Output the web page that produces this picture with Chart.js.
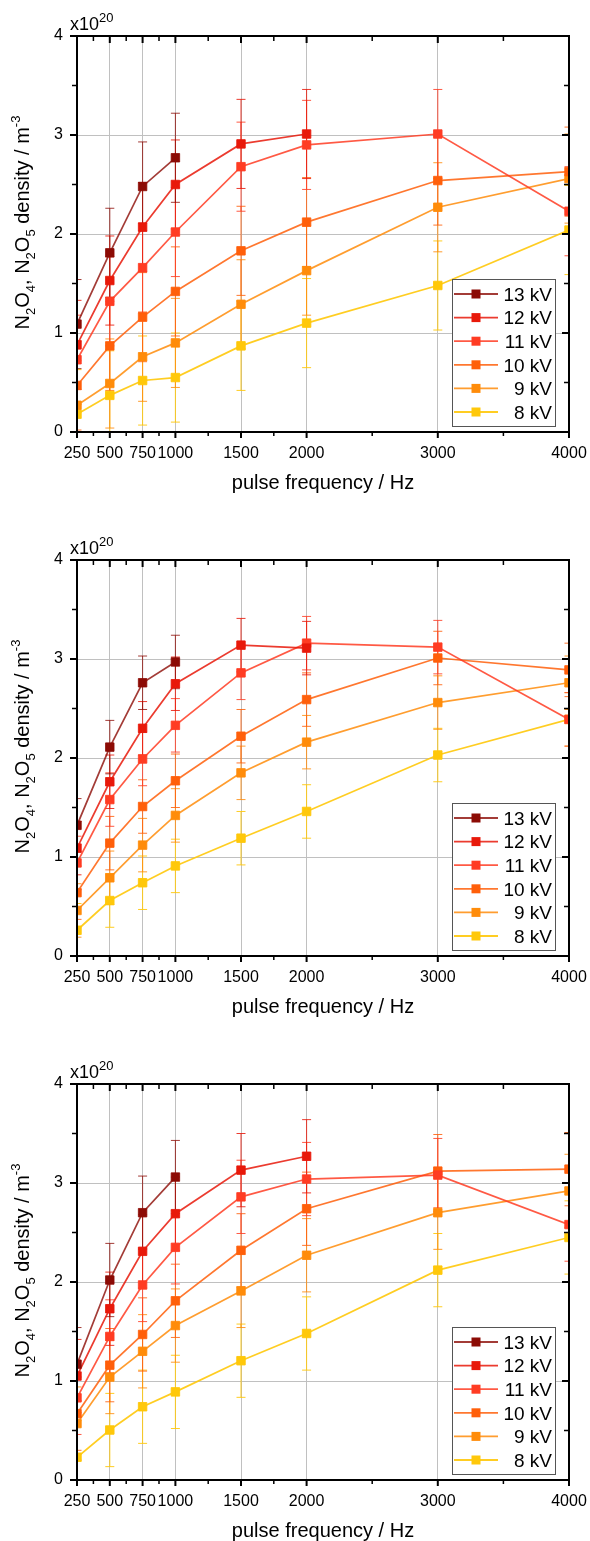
<!DOCTYPE html>
<html lang="en">
<head>
<meta charset="UTF-8">
<title>N2O4, N2O5 density vs pulse frequency</title>
<script src="https://cdn.jsdelivr.net/npm/chart.js"></script>
<style>
  body { margin: 0; background: #fff; }
  canvas { display: block; }
</style>
</head>
<body>
<canvas id="chartTop" width="590" height="524"></canvas>
<canvas id="chartMid" width="590" height="524"></canvas>
<canvas id="chartBot" width="590" height="493"></canvas>

<script>
const frequencies = [250, 500, 750, 1000, 1500, 2000, 3000, 4000];
const seriesLabels = ['13 kV', '12 kV', '11 kV', '10 kV', '9 kV', '8 kV'];
const markerColors = ['#8c0b05', '#e8190a', '#ff3c23', '#ff5f0a', '#ff8c0a', '#ffc80a'];
const lineColors = ['rgba(140,11,5,0.8)', 'rgba(232,25,10,0.85)', 'rgba(255,60,35,0.85)',
                    'rgba(255,95,10,0.85)', 'rgba(255,140,10,0.85)', 'rgba(255,200,10,0.9)'];

const xMajorTicks = [250, 500, 750, 1000, 1500, 2000, 3000, 4000];
const xMinorTicks = [375, 625, 875, 1250, 1750, 2500, 3500];
const yMajorTicks = [0, 1, 2, 3, 4];
const yMinorTicks = [0.5, 1.5, 2.5, 3.5];

// top panel
const top13kV = [1.09, 1.81, 2.48, 2.77];
const top12kV = [0.88, 1.53, 2.07, 2.50, 2.91, 3.01];
const top11kV = [0.73, 1.32, 1.66, 2.02, 2.68, 2.90, 3.01, 2.23];
const top10kV = [0.47, 0.87, 1.16, 1.42, 1.83, 2.12, 2.54, 2.63];
const top9kV  = [0.27, 0.49, 0.76, 0.90, 1.29, 1.63, 2.27, 2.56];
const top8kV  = [0.18, 0.37, 0.52, 0.55, 0.87, 1.10, 1.48, 2.04];
const topError = 0.45;

// middle panel
const mid13kV = [1.32, 2.11, 2.76, 2.97];
const mid12kV = [1.09, 1.76, 2.30, 2.75, 3.14, 3.11];
const mid11kV = [0.94, 1.58, 1.99, 2.33, 2.86, 3.16, 3.12, 2.39];
const mid10kV = [0.64, 1.14, 1.51, 1.77, 2.22, 2.59, 3.01, 2.89];
const mid9kV  = [0.46, 0.79, 1.12, 1.42, 1.85, 2.16, 2.56, 2.76];
const mid8kV  = [0.26, 0.56, 0.74, 0.91, 1.19, 1.46, 2.03, 2.39];
const midError = 0.27;

// bottom panel
const bot13kV = [1.17, 2.02, 2.70, 3.06];
const bot12kV = [1.05, 1.73, 2.31, 2.69, 3.13, 3.27];
const bot11kV = [0.83, 1.45, 1.97, 2.35, 2.86, 3.04, 3.08, 2.58];
const bot10kV = [0.67, 1.16, 1.47, 1.81, 2.32, 2.74, 3.12, 3.14];
const bot9kV  = [0.57, 1.04, 1.30, 1.56, 1.91, 2.27, 2.70, 2.92];
const bot8kV  = [0.23, 0.505, 0.74, 0.89, 1.205, 1.48, 2.12, 2.45];
const botError = 0.37;

const FONT = "'Liberation Sans', Arial, sans-serif";
Chart.defaults.font.family = FONT;
Chart.defaults.color = '#000';

// draws text pieces with sub/superscripts, baseline at y=0
function drawRich(ctx, parts, size, align) {
  let total = 0;
  parts.forEach(p => {
    ctx.font = (size * (p.s || 1)) + 'px ' + FONT;
    p.w = ctx.measureText(p.t).width;
    total += p.w;
  });
  let x = align === 'center' ? -total / 2 : 0;
  parts.forEach(p => {
    ctx.font = (size * (p.s || 1)) + 'px ' + FONT;
    ctx.fillText(p.t, x, p.dy || 0);
    x += p.w;
  });
}

const decorPlugin = {
  id: 'decor',
  beforeDatasetsDraw(chart) {
    const {ctx, chartArea: a, scales: {x, y}} = chart;
    const err = chart.options.plugins.decor.error;
    ctx.save();
    ctx.beginPath();
    ctx.rect(a.left, a.top, a.right - a.left, a.bottom - a.top);
    ctx.clip();
    for (let i = chart.data.datasets.length - 1; i >= 0; i--) {
      const ds = chart.data.datasets[i];
      ctx.strokeStyle = ds.borderColor;
      ctx.lineWidth = 1;
      ds.data.forEach(p => {
        const px = x.getPixelForValue(p.x);
        const y1 = y.getPixelForValue(p.y + err);
        const y2 = y.getPixelForValue(p.y - err);
        ctx.beginPath();
        ctx.moveTo(px, y1); ctx.lineTo(px, y2);
        ctx.moveTo(px - 4.5, y1); ctx.lineTo(px + 4.5, y1);
        ctx.moveTo(px - 4.5, y2); ctx.lineTo(px + 4.5, y2);
        ctx.stroke();
      });
    }
    ctx.restore();
  },
  afterDatasetsDraw(chart) {
    const {ctx, chartArea: a, scales: {x, y}} = chart;
    ctx.save();
    ctx.strokeStyle = '#000';
    const tick = (vals, len, lw, horiz) => {
      ctx.lineWidth = lw;
      ctx.beginPath();
      vals.forEach(v => {
        if (horiz) {
          const px = x.getPixelForValue(v);
          ctx.moveTo(px, a.bottom); ctx.lineTo(px, a.bottom + len);
          ctx.moveTo(px, a.top); ctx.lineTo(px, a.top + len + 1);
        } else {
          const py = y.getPixelForValue(v);
          ctx.moveTo(a.left, py); ctx.lineTo(a.left - len - 1, py);
          ctx.moveTo(a.right, py); ctx.lineTo(a.right - len - 1, py);
        }
      });
      ctx.stroke();
    };
    tick(xMajorTicks, 6, 2, true);
    tick(xMinorTicks, 4, 1.5, true);
    tick(yMajorTicks, 6, 2, false);
    tick(yMinorTicks, 4, 1.5, false);
    ctx.lineWidth = 2;
    ctx.strokeRect(a.left, a.top, a.right - a.left, a.bottom - a.top);
    ctx.restore();
  },
  afterDraw(chart) {
    const {ctx, chartArea: a} = chart;
    ctx.save();
    ctx.fillStyle = '#000';
    ctx.textBaseline = 'alphabetic';
    // x axis title
    ctx.font = '20px ' + FONT;
    ctx.textAlign = 'center';
    ctx.fillText('pulse frequency / Hz', (a.left + a.right) / 2, a.bottom + 56.5);
    ctx.textAlign = 'left';
    // exponent label
    ctx.save();
    ctx.translate(70, a.top - 6);
    drawRich(ctx, [{t: 'x10'}, {t: '20', s: 0.72, dy: -8}], 18, 'left');
    ctx.restore();
    // y axis title
    ctx.save();
    ctx.translate(28.5, a.top + 186.5);
    ctx.rotate(-Math.PI / 2);
    drawRich(ctx, [
      {t: 'N'}, {t: '2', s: 0.65, dy: 6}, {t: 'O'}, {t: '4', s: 0.65, dy: 6},
      {t: ', N'}, {t: '2', s: 0.65, dy: 6}, {t: 'O'}, {t: '5', s: 0.65, dy: 6},
      {t: ' density / m'}, {t: '-3', s: 0.65, dy: -9}
    ], 20, 'center');
    ctx.restore();
    // legend
    const lx = 452.5, ly = a.top + 243.5, lw = 103, lh = 147;
    ctx.fillStyle = '#fff';
    ctx.fillRect(lx, ly, lw, lh);
    ctx.strokeStyle = '#555';
    ctx.lineWidth = 1;
    ctx.strokeRect(lx, ly, lw, lh);
    ctx.font = '19px ' + FONT;
    ctx.textAlign = 'right';
    chart.data.datasets.forEach((ds, i) => {
      const cy = ly + 14.5 + i * 23.6;
      ctx.strokeStyle = ds.borderColor;
      ctx.lineWidth = 1.8;
      ctx.beginPath();
      ctx.moveTo(454, cy); ctx.lineTo(498, cy);
      ctx.stroke();
      ctx.fillStyle = ds.pointBackgroundColor;
      ctx.fillRect(471.5, cy - 4.5, 9, 9);
      ctx.fillStyle = '#000';
      ctx.fillText(ds.label, 552, cy + 6.8);
    });
    ctx.restore();
  }
};

function makeChart(id, values, error) {
  const canvas = document.getElementById(id);
  const datasets = values.map((vals, i) => ({
    label: seriesLabels[i],
    data: vals.map((v, j) => ({x: frequencies[j], y: v})),
    borderColor: lineColors[i],
    backgroundColor: markerColors[i],
    pointBackgroundColor: markerColors[i],
    pointBorderColor: lineColors[i],
    pointBorderWidth: 1,
    pointStyle: 'rect',
    pointRadius: 6,
    borderWidth: 1.7,
    tension: 0,
    clip: 0
  }));
  return new Chart(canvas.getContext('2d'), {
    type: 'line',
    data: {datasets},
    plugins: [decorPlugin],
    options: {
      responsive: false,
      animation: false,
      events: [],
      layout: {padding: {left: 0, right: 21, top: 36, bottom: canvas.height - 432 - 30}},
      plugins: {
        legend: {display: false},
        tooltip: {enabled: false},
        decor: {error}
      },
      scales: {
        x: {
          type: 'linear',
          min: 250, max: 4000,
          afterBuildTicks: s => { s.ticks = xMajorTicks.map(v => ({value: v})); },
          afterFit: s => { s.height = 30; s.paddingLeft = 0; s.paddingRight = 0; },
          ticks: {padding: 12, font: {size: 16}, maxRotation: 0, autoSkip: false,
                  callback: v => String(v)},
          grid: {color: '#c0c0c0', lineWidth: 1, drawTicks: false},
          border: {display: false}
        },
        y: {
          min: 0, max: 4,
          afterBuildTicks: s => { s.ticks = yMajorTicks.map(v => ({value: v})); },
          afterFit: s => { s.width = 77; s.paddingTop = 0; s.paddingBottom = 0; },
          ticks: {padding: 14, font: {size: 16}, callback: v => String(v)},
          grid: {color: '#c0c0c0', lineWidth: 1, drawTicks: false},
          border: {display: false}
        }
      }
    }
  });
}

makeChart('chartTop', [top13kV, top12kV, top11kV, top10kV, top9kV, top8kV], topError);
makeChart('chartMid', [mid13kV, mid12kV, mid11kV, mid10kV, mid9kV, mid8kV], midError);
makeChart('chartBot', [bot13kV, bot12kV, bot11kV, bot10kV, bot9kV, bot8kV], botError);
</script>
</body>
</html>
